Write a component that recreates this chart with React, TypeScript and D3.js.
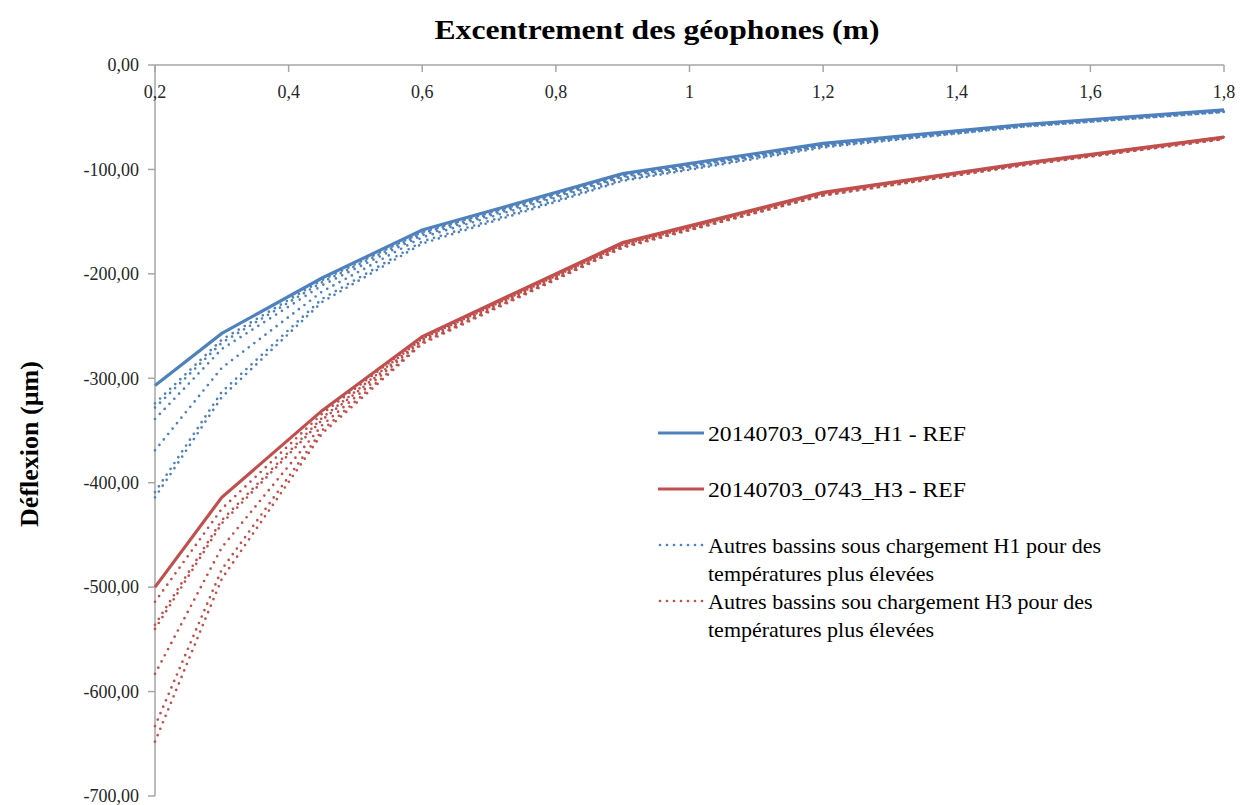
import * as d3 from "d3";

// geophone offsets (m)
const offsets = [0.2, 0.3, 0.45, 0.6, 0.9, 1.2, 1.5, 1.8];

// reference basins (µm)
const h1Ref = [-307, -257, -204, -158, -104, -75, -57, -43];
const h3Ref = [-500, -414, -331, -260, -170, -122, -94, -69];

// other basins, higher temperatures
const h1Others = [
  [-324, -263, -206, -160, -105, -76, -57, -44],
  [-328, -266, -208, -161, -106, -76, -58, -44],
  [-339, -272, -211, -163, -107, -77, -58, -44],
  [-369, -290, -217, -165, -108, -77, -58, -44],
  [-409, -313, -224, -169, -110, -78, -59, -45],
  [-414, -318, -227, -171, -111, -79, -59, -45],
];
const h3Others = [
  [-514, -425, -334, -261, -171, -123, -94, -69],
  [-536, -436, -338, -262, -172, -123, -95, -70],
  [-540, -439, -340, -263, -172, -124, -95, -70],
  [-583, -462, -345, -264, -173, -124, -95, -70],
  [-633, -483, -350, -266, -174, -125, -96, -71],
  [-648, -492, -353, -267, -175, -125, -96, -71],
];

const xTicks = [0.2, 0.4, 0.6, 0.8, 1, 1.2, 1.4, 1.6, 1.8];
const yTicks = [0, -100, -200, -300, -400, -500, -600, -700];

const legendLabels = [
  "20140703_0743_H1 - REF",
  "20140703_0743_H3 - REF",
  ["Autres bassins sous chargement H1 pour des", "températures plus élevées"],
  ["Autres bassins sou chargement H3 pour des", "températures plus élevées"],
];

const BLUE = "#4f81bd";
const RED = "#c0504d";
const AXIS = "#a6a6a6";
const FONT = "'Liberation Serif', 'DejaVu Serif', serif";

const W = 1242;
const H = 805;

export default function App() {
  const x = d3.scaleLinear().domain([0.2, 1.8]).range([155, 1224]);
  const y = d3.scaleLinear().domain([0, -700]).range([65, 796]);

  const line = d3
    .line<number>()
    .x((_, i) => x(offsets[i]))
    .y((d) => y(d));

  const fmtY = (v: number) => d3.format(".2f")(v).replace(".", ",").replace("−", "-");
  const fmtX = (v: number) => String(v).replace(".", ",");

  const dotted = { strokeWidth: 2.7, strokeDasharray: "0 7", strokeLinecap: "round" as const };

  const lx0 = 658;
  const lx1 = 704;
  const tx = 708;
  const LF = 22;

  return (
    <svg
      width={W}
      height={H}
      style={{ position: "absolute", left: 0, top: 0, background: "#fff" }}
      fontFamily={FONT}
    >
      <rect width={W} height={H} fill="#fff" />

      <text
        x={657}
        y={39}
        textAnchor="middle"
        fontSize={28}
        fontWeight="bold"
        fill="#000"
        textLength={445}
        lengthAdjust="spacingAndGlyphs"
      >
        Excentrement des géophones (m)
      </text>
      <text
        transform={`translate(38, 444) rotate(-90)`}
        textAnchor="middle"
        fontSize={26}
        fontWeight="bold"
        fill="#000"
      >
        Déflexion (µm)
      </text>

      {/* axes */}
      <line x1={x(0.2)} x2={x(0.2)} y1={y(0)} y2={y(-700)} stroke={AXIS} strokeWidth={1.5} />
      <line x1={x(0.2)} x2={x(1.8)} y1={y(0)} y2={y(0)} stroke={AXIS} strokeWidth={1.5} />
      {yTicks.map((t) => (
        <g key={t}>
          <line x1={x(0.2) - 7} x2={x(0.2)} y1={y(t)} y2={y(t)} stroke={AXIS} strokeWidth={1.5} />
          <text x={139} y={y(t)} dy="0.35em" textAnchor="end" fontSize={18} fill="#262626">
            {fmtY(t)}
          </text>
        </g>
      ))}
      {xTicks.map((t) => (
        <g key={t}>
          <line x1={x(t)} x2={x(t)} y1={y(0)} y2={y(0) + 7} stroke={AXIS} strokeWidth={1.5} />
          <text x={x(t)} y={92} dy="0.35em" textAnchor="middle" fontSize={18} fill="#262626">
            {fmtX(t)}
          </text>
        </g>
      ))}

      {/* series */}
      <path d={line(h1Ref) ?? undefined} fill="none" stroke={BLUE} strokeWidth={3.2} />
      <path d={line(h3Ref) ?? undefined} fill="none" stroke={RED} strokeWidth={3.2} />
      {h1Others.map((s, i) => (
        <path key={`b${i}`} d={line(s) ?? undefined} fill="none" stroke={BLUE} {...dotted} />
      ))}
      {h3Others.map((s, i) => (
        <path key={`r${i}`} d={line(s) ?? undefined} fill="none" stroke={RED} {...dotted} />
      ))}

      {/* legend */}
      <line x1={lx0} x2={lx1} y1={433} y2={433} stroke={BLUE} strokeWidth={3.2} />
      <text x={tx} y={433} dy="0.35em" fontSize={LF} fill="#000" textLength={258} lengthAdjust="spacingAndGlyphs">
        {legendLabels[0] as string}
      </text>
      <line x1={lx0} x2={lx1} y1={489} y2={489} stroke={RED} strokeWidth={3.2} />
      <text x={tx} y={489} dy="0.35em" fontSize={LF} fill="#000" textLength={258} lengthAdjust="spacingAndGlyphs">
        {legendLabels[1] as string}
      </text>
      <line x1={lx0 + 2} x2={lx1} y1={545} y2={545} stroke={BLUE} {...dotted} />
      <text x={tx} y={545} dy="0.35em" fontSize={LF} fill="#000">
        <tspan x={tx}>{(legendLabels[2] as string[])[0]}</tspan>
        <tspan x={tx} dy={28}>
          {(legendLabels[2] as string[])[1]}
        </tspan>
      </text>
      <line x1={lx0 + 2} x2={lx1} y1={601} y2={601} stroke={RED} {...dotted} />
      <text x={tx} y={601} dy="0.35em" fontSize={LF} fill="#000">
        <tspan x={tx}>{(legendLabels[3] as string[])[0]}</tspan>
        <tspan x={tx} dy={28}>
          {(legendLabels[3] as string[])[1]}
        </tspan>
      </text>
    </svg>
  );
}
